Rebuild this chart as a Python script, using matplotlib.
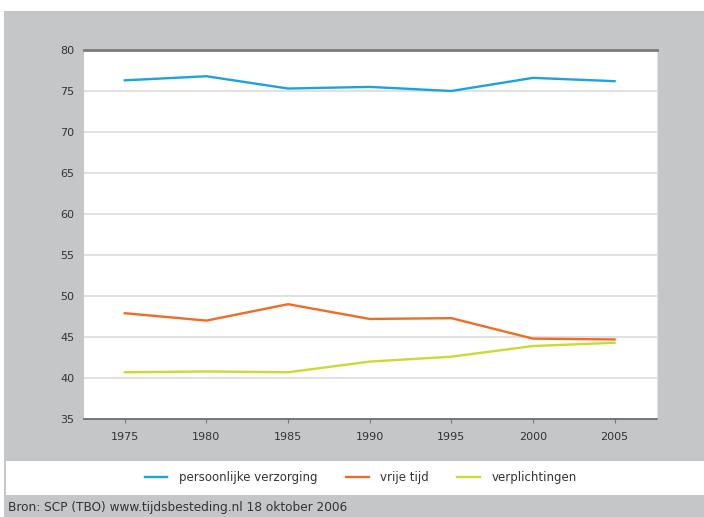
import matplotlib
matplotlib.use("Agg")
import matplotlib.pyplot as plt
from matplotlib.patches import Rectangle

years = [1975, 1980, 1985, 1990, 1995, 2000, 2005]
persoonlijke_verzorging = [76.3, 76.8, 75.3, 75.5, 75.0, 76.6, 76.2]
vrije_tijd = [47.9, 47.0, 49.0, 47.2, 47.3, 44.8, 44.7]
verplichtingen = [40.7, 40.8, 40.7, 42.0, 42.6, 43.9, 44.3]
yticks = [35, 40, 45, 50, 55, 60, 65, 70, 75, 80]

W, H = 704, 517
fig = plt.figure(figsize=(W / 100, H / 100), dpi=100, facecolor="white")

def px(x0, y0, x1, y1):
    # pixel box (top-left origin) -> figure fraction rect
    return [x0 / W, 1 - y1 / H, (x1 - x0) / W, (y1 - y0) / H]

gray = "#c5c6c8"
r = px(4, 11, W, H)
fig.patches.append(Rectangle((r[0], r[1]), r[2], r[3], transform=fig.transFigure,
                             facecolor=gray, edgecolor="none", zorder=-10))
r = px(6, 461, W, 495)
fig.patches.append(Rectangle((r[0], r[1]), r[2], r[3], transform=fig.transFigure,
                             facecolor="white", edgecolor="none", zorder=-9))

ax = fig.add_axes(px(84, 50, 657, 419))
ax.set_facecolor("white")

ax.plot(years, persoonlijke_verzorging, color="#1ba3e1", lw=1.7, label="persoonlijke verzorging")
ax.plot(years, vrije_tijd, color="#f26b23", lw=1.7, label="vrije tijd")
ax.plot(years, verplichtingen, color="#c9da35", lw=1.7, label="verplichtingen")

ax.set_xlim(1972.5, 2007.6)
ax.set_ylim(35, 80)
ax.set_xticks(years)
ax.set_yticks(yticks)
ax.yaxis.grid(True, color="#d9d9d9", lw=1.1)
ax.set_axisbelow(True)

ax.spines["left"].set_visible(False)
ax.spines["right"].set_color("#e2e2e2")
ax.spines["right"].set_linewidth(0.8)
ax.spines["top"].set_color("#7a7a7a")
ax.spines["top"].set_linewidth(2.0)
ax.spines["bottom"].set_color("#666666")
ax.spines["bottom"].set_linewidth(1.2)

ax.tick_params(axis="y", length=0, pad=7, labelsize=8, labelcolor="#333333")
ax.tick_params(axis="x", length=3, width=0.8, color="#777777", pad=6,
               labelsize=8, labelcolor="#333333")

fig.legend(loc="center", bbox_to_anchor=(361 / W, 1 - 478 / H), ncol=3,
           frameon=False, fontsize=8.5, handlelength=1.9, columnspacing=2.4,
           handletextpad=1.0, labelcolor="#333333")

fig.text(8 / W, 1 - 508 / H, "Bron: SCP (TBO) www.tijdsbesteding.nl 18 oktober 2006",
         fontsize=8.7, color="#333333", va="center", ha="left")

fig.savefig("out.png", dpi=100, facecolor="white")
